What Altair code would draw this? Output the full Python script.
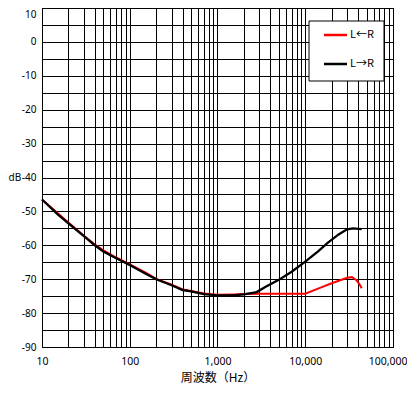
import altair as alt
import pandas as pd

# L<-R (red)
freq_lr = [10, 15, 20, 30, 40, 50, 70, 100, 150, 200, 300, 400, 500, 700, 1000, 1500,
           2000, 3000, 5000, 7000, 10000, 14000, 20000, 25000, 30000, 34000, 38000, 41000, 44000]
db_lr = [-46.5, -50.5, -53.3, -57.2, -59.8, -61.5, -63.6, -65.6, -68.0, -69.9, -71.6, -73.0,
         -73.5, -74.2, -74.6, -74.5, -74.4, -74.3, -74.3, -74.3, -74.3, -72.8, -71.2, -70.3,
         -69.6, -69.4, -70.2, -71.3, -72.7]

# L->R (black)
freq_rl = [10, 15, 20, 30, 40, 50, 70, 100, 150, 200, 300, 400, 500, 700, 1000, 1500, 2000,
           2800, 3500, 5000, 7000, 10000, 14000, 18000, 24000, 30000, 35000, 44000]
db_rl = [-46.5, -50.8, -53.5, -57.3, -60.0, -61.8, -63.8, -65.8, -68.3, -70.0, -71.8, -73.2,
         -73.6, -74.4, -74.8, -74.8, -74.5, -73.8, -72.3, -70.2, -67.8, -64.8, -61.8, -59.3,
         -56.8, -55.3, -55.0, -55.2]

series_names = ["L←R", "L→R"]
series_colors = ["#ff0000", "#000000"]

x_grid = [m * 10 ** d for d in range(1, 5) for m in range(1, 10)] + [100000]
decades = [10, 100, 1000, 10000, 100000]
y_ticks = list(range(-90, 11, 5))

df_lr = pd.DataFrame({"f": freq_lr, "db": db_lr, "s": series_names[0]})
df_rl = pd.DataFrame({"f": freq_rl, "db": db_rl, "s": series_names[1]})

NUMFONT = "Noto Sans"
CJK = "Noto Sans CJK JP"

x_axis = alt.Axis(
    values=x_grid,
    labelExpr="indexof([10,100,1000,10000,100000], datum.value) >= 0 ? format(datum.value, ',') : ''",
    labelOverlap=False,
    labelFont=NUMFONT,
    labelFontSize=10.5,
    labelPadding=9,
    labelFlush=False,
    labelAlign=alt.condition("datum.value == 100000", alt.value("right"), alt.value("center")),
    labelOffset=alt.condition("datum.value == 100000", alt.value(14), alt.value(0)),
    title="周波数（Hz）",
    titleFont=CJK,
    titleFontSize=12,
    titleFontWeight="normal",
    titlePadding=6,
)
y_axis = alt.Axis(
    values=y_ticks,
    labelExpr="datum.value % 10 == 0 ? '' + datum.value : ''",
    labelOverlap=False,
    labelFont=NUMFONT,
    labelFontSize=10,
    labelPadding=6,
    labelBaseline=alt.condition("datum.value == 10", alt.value("top"), alt.value("middle")),
    labelOffset=alt.condition("datum.value == 10", alt.value(1), alt.value(0)),
    title="dB",
    titleFont=NUMFONT,
    titleFontSize=10,
    titleFontWeight="normal",
    titleAngle=0,
    titleAlign="left",
    titleBaseline="middle",
    titleX=-34,
    titleY=169.5,
)

x_scale = alt.Scale(type="log", domain=[10, 100000], nice=False)
y_scale = alt.Scale(domain=[-90, 10], nice=False)


def enc(ch):
    return ch.encode(
        x=alt.X("f:Q", scale=x_scale, axis=x_axis),
        y=alt.Y("db:Q", scale=y_scale, axis=y_axis),
    )


red = enc(alt.Chart(df_lr).mark_line(color=series_colors[0], strokeWidth=2))
black = enc(alt.Chart(df_rl).mark_line(color=series_colors[1], strokeWidth=2.3))

one = alt.Data(values=[{}])
box = alt.Chart(one).mark_rect(fill="white", stroke="black", strokeWidth=1).encode(
    x=alt.value(267), x2=alt.value(342), y=alt.value(13), y2=alt.value(73)
)
leg_lines = [
    alt.Chart(one).mark_rule(color=c, strokeWidth=2.5).encode(
        x=alt.value(282), x2=alt.value(305), y=alt.value(yy)
    )
    for c, yy in zip(series_colors, [27, 56])
]
leg_text = [
    alt.Chart(one).mark_text(align="left", baseline="middle", font=CJK, fontSize=11, color="black").encode(
        x=alt.value(308), y=alt.value(yy), text=alt.value(t)
    )
    for t, yy in zip(series_names, [27, 56])
]

chart = alt.layer(red, black, box, *leg_lines, *leg_text).properties(
    width=351,
    height=339,
    autosize=alt.AutoSizeParams(type="none"),
    padding={"left": 34, "top": 0, "right": 14, "bottom": 44},
).configure_axis(
    grid=True,
    gridColor="black",
    gridOpacity=1,
    gridWidth=1,
    domainColor="black",
    ticks=False,
    labelColor="black",
    titleColor="black",
).configure_view(stroke="black", strokeWidth=1)

chart.save("out.html", embed_options={"renderer": "svg", "actions": False})
